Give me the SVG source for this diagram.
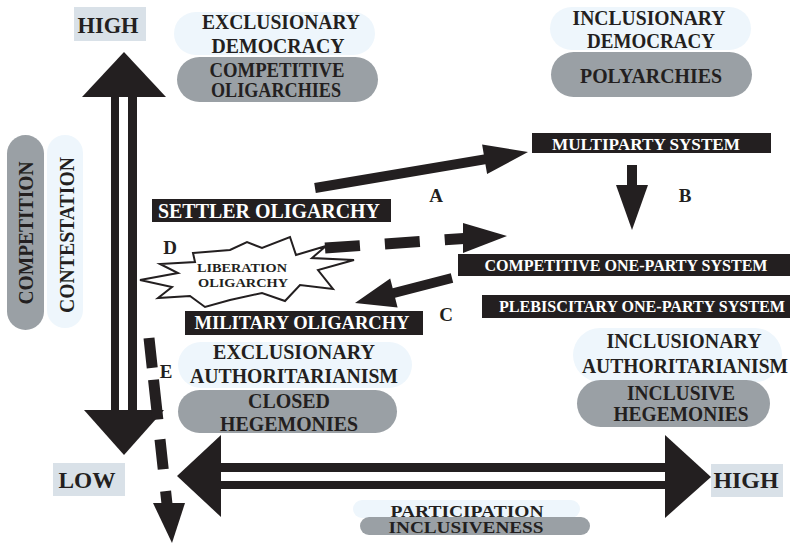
<svg xmlns="http://www.w3.org/2000/svg" width="793" height="544" viewBox="0 0 793 544">
<defs>
<style>
text{font-family:"Liberation Serif","Times New Roman",serif;font-weight:bold;fill:#231f20;text-anchor:middle}
.light{fill:#eef6fc}
.grey{fill:#9aa0a5}
.axis{fill:#d9e1e8}
.blk{fill:#231f20}
.pill{font-size:20.5px}
.box{font-size:16.5px;fill:#ffffff}
.lt{font-size:19px}
.ax{font-size:23px}
.arr{fill:#231f20;stroke:none}
.dash{stroke:#231f20;fill:none;stroke-linecap:butt}
</style>
</defs>
<rect width="793" height="544" fill="#ffffff"/>

<!-- axes labels -->
<g id="high-top"><rect class="axis" x="74" y="7" width="72" height="34"/><text class="ax" x="108" y="33" textLength="61" lengthAdjust="spacingAndGlyphs">HIGH</text></g>
<g id="low"><rect class="axis" x="53" y="463" width="72" height="33"/><text class="ax" x="87" y="488" textLength="57" lengthAdjust="spacingAndGlyphs">LOW</text></g>
<g id="high-right"><rect class="axis" x="711" y="464" width="72" height="33"/><text class="ax" x="746" y="488" textLength="65" lengthAdjust="spacingAndGlyphs">HIGH</text></g>

<g id="competition"><rect class="grey" x="7" y="135" width="37" height="195" rx="18.5"/><text class="pill" transform="translate(33,233) rotate(-90)" textLength="143" lengthAdjust="spacingAndGlyphs">COMPETITION</text></g>
<g id="contestation"><rect class="light" x="47" y="135" width="36" height="193" rx="18"/><text class="pill" transform="translate(74,235) rotate(-90)" textLength="156" lengthAdjust="spacingAndGlyphs">CONTESTATION</text></g>

<!-- quadrant pills -->
<g id="exclusionary-democracy"><rect class="light" x="174" y="12" width="201" height="43" rx="21.5"/><text class="pill" x="281" y="29" textLength="158" lengthAdjust="spacingAndGlyphs">EXCLUSIONARY</text><text class="pill" x="278" y="53" textLength="133" lengthAdjust="spacingAndGlyphs">DEMOCRACY</text></g>
<g id="competitive-oligarchies"><rect class="grey" x="177" y="57" width="201" height="45" rx="22.5"/><text class="pill" x="277" y="77" textLength="135" lengthAdjust="spacingAndGlyphs">COMPETITIVE</text><text class="pill" x="276" y="97" textLength="130" lengthAdjust="spacingAndGlyphs">OLIGARCHIES</text></g>

<g id="inclusionary-democracy"><rect class="light" x="550" y="7" width="201" height="43" rx="21.5"/><text class="pill" x="649" y="25" textLength="153" lengthAdjust="spacingAndGlyphs">INCLUSIONARY</text><text class="pill" x="651" y="48" textLength="128" lengthAdjust="spacingAndGlyphs">DEMOCRACY</text></g>
<g id="polyarchies"><rect class="grey" x="551" y="52" width="201" height="45" rx="22.5"/><text class="pill" x="651" y="83" textLength="142" lengthAdjust="spacingAndGlyphs">POLYARCHIES</text></g>

<g id="inclusionary-authoritarianism"><rect class="light" x="573" y="328" width="209" height="54" rx="27"/><text class="pill" x="684" y="348" textLength="155" lengthAdjust="spacingAndGlyphs">INCLUSIONARY</text><text class="pill" x="685" y="373" textLength="206" lengthAdjust="spacingAndGlyphs">AUTHORITARIANISM</text></g>
<g id="inclusive-hegemonies"><rect class="grey" x="577" y="380" width="193" height="47" rx="23.5"/><text class="pill" x="681" y="400" textLength="108" lengthAdjust="spacingAndGlyphs">INCLUSIVE</text><text class="pill" x="681" y="421" textLength="135" lengthAdjust="spacingAndGlyphs">HEGEMONIES</text></g>

<g id="exclusionary-authoritarianism"><rect class="light" x="178" y="342" width="234" height="46" rx="23"/><text class="pill" x="294" y="359" textLength="162" lengthAdjust="spacingAndGlyphs">EXCLUSIONARY</text><text class="pill" x="294" y="383" textLength="208" lengthAdjust="spacingAndGlyphs">AUTHORITARIANISM</text></g>
<g id="closed-hegemonies"><rect class="grey" x="178" y="390" width="219" height="43" rx="21.5"/><text class="pill" x="289" y="408" textLength="82" lengthAdjust="spacingAndGlyphs">CLOSED</text><text class="pill" x="289" y="431" textLength="138" lengthAdjust="spacingAndGlyphs">HEGEMONIES</text></g>

<g id="participation"><rect class="light" x="353" y="500" width="227" height="18" rx="9"/><rect class="grey" x="360" y="517" width="230" height="18" rx="9"/><text style="font-size:16px" x="467" y="517" textLength="153" lengthAdjust="spacingAndGlyphs">PARTICIPATION</text><text style="font-size:16px" x="466" y="533" textLength="155" lengthAdjust="spacingAndGlyphs">INCLUSIVENESS</text></g>

<!-- system boxes -->
<g id="multiparty"><rect class="blk" x="532" y="133" width="239" height="20"/><text class="box" style="font-size:17.5px" x="646" y="150" textLength="188" lengthAdjust="spacingAndGlyphs">MULTIPARTY SYSTEM</text></g>
<g id="competitive-one-party"><rect class="blk" x="458" y="254" width="332" height="22"/><text class="box" x="626" y="271" textLength="283" lengthAdjust="spacingAndGlyphs">COMPETITIVE ONE-PARTY SYSTEM</text></g>
<g id="plebiscitary-one-party"><rect class="blk" x="482" y="295" width="308" height="23"/><text class="box" x="642" y="312" textLength="286" lengthAdjust="spacingAndGlyphs">PLEBISCITARY ONE-PARTY SYSTEM</text></g>
<g id="settler-oligarchy"><rect class="blk" x="152" y="199" width="239" height="23"/><text class="box" style="font-size:20px" x="269" y="218" textLength="222" lengthAdjust="spacingAndGlyphs">SETTLER OLIGARCHY</text></g>
<g id="military-oligarchy"><rect class="blk" x="185" y="311" width="238" height="24"/><text class="box" style="font-size:19px" x="302" y="329" textLength="215" lengthAdjust="spacingAndGlyphs">MILITARY OLIGARCHY</text></g>
<g id="liberation-oligarchy"><polygon points="193,253 230,250 247,242 262,248 290,237 296,255 326,246 312,258 354,260 318,270 333,289 300,285 285,301 262,293 230,300 205,307 190,296 158,298 172,287 140,280 178,273 160,264 195,262" fill="#ffffff" stroke="#231f20" stroke-width="2" stroke-linejoin="miter"/><text style="font-size:13px" x="242" y="272" textLength="90" lengthAdjust="spacingAndGlyphs">LIBERATION</text><text style="font-size:13px" x="243" y="287" textLength="90" lengthAdjust="spacingAndGlyphs">OLIGARCHY</text></g>

<!-- connectors -->
<g id="connectors">
<polygon class="arr" points="82,97 124,52 166,97"/>
<rect class="arr" x="111" y="96" width="8" height="315"/>
<rect class="arr" x="128" y="96" width="9" height="315"/>
<polygon class="arr" points="84,410 164,410 124,455"/>
<polygon class="arr" points="221,435 221,517 177,476"/>
<rect class="arr" x="220" y="463" width="446" height="9"/>
<rect class="arr" x="220" y="481" width="446" height="8"/>
<polygon class="arr" points="665,435 665,518 711,477"/>
<polygon class="arr" points="314.2,183.1 483.8,154.4 482.1,144.5 528,152 487.1,174.1 485.4,164.2 315.8,192.9"/>
<rect class="arr" x="627" y="165" width="10" height="21"/>
<polygon class="arr" points="616,185 648,185 632,230"/>
<polygon class="arr" points="450.8,273.2 392.7,288.2 390.2,278.5 355,303 397.6,307.5 395.1,297.8 453.2,282.8"/>
<line class="dash" x1="325" y1="248" x2="464" y2="238.5" stroke-width="11" stroke-dasharray="35 25"/>
<polygon class="arr" points="463,223 463,253 507,236"/>
<line class="dash" x1="149" y1="338" x2="167" y2="504" stroke-width="11" stroke-dasharray="30 12 40 20 30 22 14"/>
<polygon class="arr" points="153,503 185,503 172,543"/>
</g>

<g id="labels">
<text class="lt" x="436" y="202">A</text>
<text class="lt" x="685" y="202">B</text>
<text class="lt" x="446" y="321">C</text>
<text class="lt" x="170" y="254">D</text>
<text class="lt" x="166" y="378">E</text>
</g>
</svg>
